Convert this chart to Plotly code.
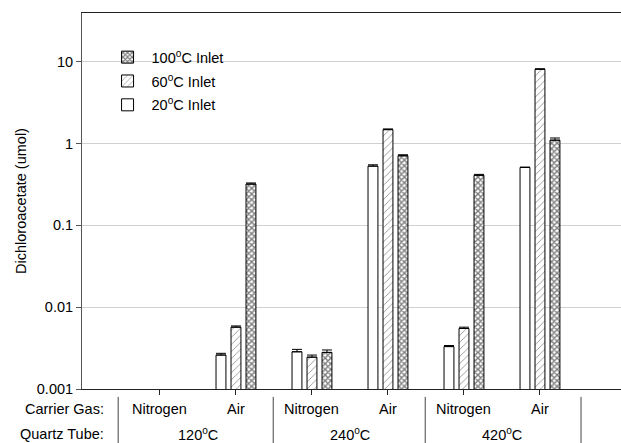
import plotly.graph_objects as go

categories = ["120 Nitrogen", "120 Air", "240 Nitrogen", "240 Air", "420 Nitrogen", "420 Air"]
gas_labels = ["Nitrogen", "Air", "Nitrogen", "Air", "Nitrogen", "Air"]
tube_labels = ["120<sup>o</sup>C", "240<sup>o</sup>C", "420<sup>o</sup>C"]

inlet20 = [None, 0.0026, 0.00285, 0.53, 0.0033, 0.51]
inlet20_err = [0, 0.00013, 0.0002, 0.02, 0.0001, 0.006]
inlet60 = [None, 0.0057, 0.00245, 1.48, 0.0055, 8.1]
inlet60_err = [0, 0.0002, 0.00015, 0.03, 0.0002, 0.1]
inlet100 = [None, 0.32, 0.0028, 0.71, 0.41, 1.1]
inlet100_err = [0, 0.01, 0.0002, 0.02, 0.01, 0.07]

series = [
    ("20<sup>o</sup>C Inlet", inlet20, inlet20_err, "", 3),
    ("60<sup>o</sup>C Inlet", inlet60, inlet60_err, "/", 2),
    ("100<sup>o</sup>C Inlet", inlet100, inlet100_err, "x", 1),
]

FONT = "Liberation Sans, Arial, sans-serif"
fig = go.Figure()
for i, (name, vals, errs, shape, rank) in enumerate(series):
    pattern = dict(shape=shape, fgcolor="black", bgcolor="white",
                   size=5 if shape == "/" else 4,
                   solidity=0.15 if shape == "/" else 0.6)
    fig.add_trace(go.Bar(
        x=categories, y=vals, name=name, legendgroup=str(i), legendrank=rank,
        marker=dict(color="white", line=dict(color="black", width=1), pattern=pattern),
        error_y=dict(type="data", array=errs, arrayminus=[0]*len(errs), symmetric=False,
                     color="black", thickness=1, width=5),
    ))

annotations = []
for k, g in enumerate(gas_labels):
    annotations.append(dict(x=k, y=-0.053, xref="x", yref="paper", text=g, showarrow=False,
                            xanchor="center", yanchor="middle", font=dict(size=14.5, color="black", family=FONT)))
for k, t in enumerate(tube_labels):
    annotations.append(dict(x=2*k + 0.5, y=-0.12, xref="x", yref="paper", text=t, showarrow=False,
                            xanchor="center", yanchor="middle", font=dict(size=14.5, color="black", family=FONT)))
annotations.append(dict(x=-0.71, y=-0.053, xref="x", yref="paper", text="Carrier Gas:", showarrow=False,
                        xanchor="right", yanchor="middle", font=dict(size=14.5, color="black", family=FONT)))
annotations.append(dict(x=-0.71, y=-0.12, xref="x", yref="paper", text="Quartz Tube:", showarrow=False,
                        xanchor="right", yanchor="middle", font=dict(size=14.5, color="black", family=FONT)))

shapes = []
for sx in [-0.55, 1.49, 3.49, 5.54]:
    shapes.append(dict(type="line", xref="x", yref="paper", x0=sx, x1=sx, y0=-0.021, y1=-0.15,
                       line=dict(color="#444", width=1)))

fig.update_layout(
    width=621, height=443,
    margin=dict(l=82, r=0, t=13, b=54),
    paper_bgcolor="white", plot_bgcolor="white",
    font=dict(family=FONT, size=14, color="black"),
    barmode="group", bargap=0.408, bargroupgap=0.34,
    showlegend=True,
    legend=dict(x=0.04, y=0.925, xanchor="left", yanchor="top", traceorder="grouped",
                tracegroupgap=2, itemwidth=38, bgcolor="rgba(0,0,0,0)",
                font=dict(size=14.5, family=FONT)),
    annotations=annotations, shapes=shapes,
)
fig.update_xaxes(type="category", categoryorder="array", categoryarray=categories,
                 range=[-1.026, 6.066], showline=True, linecolor="#222", linewidth=1, mirror=True,
                 ticks="outside", ticklen=5, tickcolor="#222", showticklabels=False, showgrid=False)
fig.update_yaxes(type="log", range=[-3, 1.596],
                 tickvals=[0.001, 0.01, 0.1, 1, 10], ticktext=["0.001", "0.01", "0.1", "1", "10"],
                 showgrid=True, gridcolor="#d0d0d0", gridwidth=1,
                 showline=True, linecolor="#555", linewidth=1, ticks="outside", ticklen=5, tickcolor="#555",
                 zeroline=False, tickfont=dict(size=14.5), automargin=False,
                 title=dict(text="Dichloroacetate (umol)", font=dict(size=14.5), standoff=6))

fig.write_html("out.html", config={"displayModeBar": False},
               post_script="document.body.style.margin='0';")
